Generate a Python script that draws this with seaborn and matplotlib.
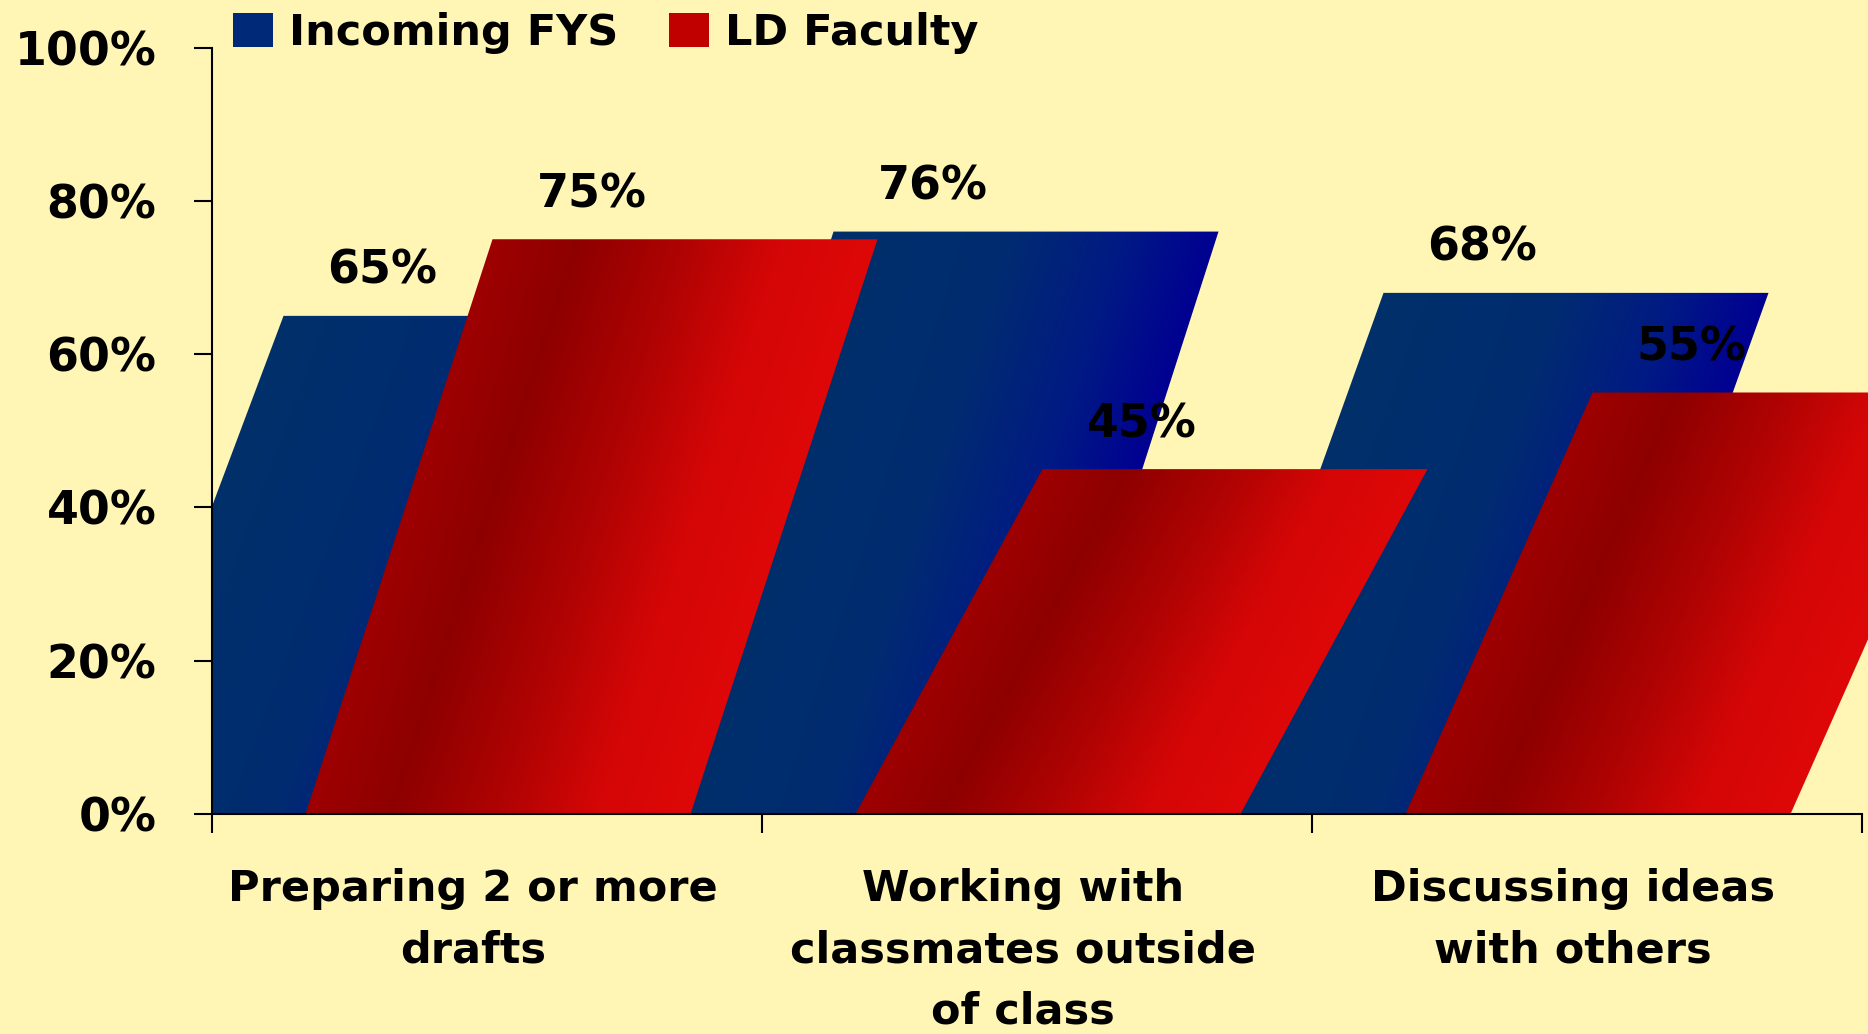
import numpy as np
import pandas as pd
import matplotlib
matplotlib.use("Agg")
import matplotlib.pyplot as plt
import seaborn as sns
from matplotlib.colors import LinearSegmentedColormap
from matplotlib.patches import Polygon, Patch
from matplotlib.transforms import Bbox, TransformedBbox


categories = ["Preparing 2 or more\ndrafts",
              "Working with\nclassmates outside\nof class",
              "Discussing ideas\nwith others"]
groups = ["Incoming FYS", "LD Faculty"]
fys_values = [65, 76, 68]
ld_values = [75, 45, 55]
y_ticks = [0, 20, 40, 60, 80, 100]

df = pd.DataFrame({
    "category": categories * 2,
    "group": [groups[0]] * 3 + [groups[1]] * 3,
    "value": fys_values + ld_values,
})

bg = "#FFF5B4"
blue_cmap = LinearSegmentedColormap.from_list(
    "fys", [(0, "#00306A"), (0.45, "#002C70"), (0.75, "#001A84"), (1, "#000092")])
red_cmap = LinearSegmentedColormap.from_list(
    "ld", [(0, "#9E0000"), (0.22, "#8E0000"), (0.5, "#B00303"), (0.75, "#D50606"), (1, "#DE0808")])

sns.set_style("white")
plt.rcParams["font.family"] = ["DejaVu Sans"]
plt.rcParams["font.weight"] = "bold"
plt.rcParams["text.color"] = "black"
plt.rcParams["xtick.color"] = "black"
plt.rcParams["ytick.color"] = "black"
plt.rcParams["xtick.labelcolor"] = "black"
plt.rcParams["ytick.labelcolor"] = "black"

fig = plt.figure(figsize=(18.68, 10.34), dpi=100, facecolor=bg)
ax = fig.add_axes([0.1135, 0.2128, 0.8833, 0.7411])
ax.set_facecolor(bg)

sns.barplot(data=df, x="category", y="value", hue="group",
            palette=["#002A78", "#C00000"], width=0.76,
            errorbar=None, legend=False, ax=ax)

# turn the flat bars into slanted gradient slabs
half_w = 0.35
skew = 0.17
cmaps = [blue_cmap, red_cmap]
clip = TransformedBbox(Bbox.from_extents(-0.5, -1, 3.0, 101), ax.transData)
for hi, cont in enumerate(ax.containers):
    for bar in cont:
        xc = bar.get_x() + bar.get_width() / 2
        h = bar.get_height()
        bar.set_visible(False)
        verts = [(xc - half_w - skew, 0), (xc + half_w - skew, 0),
                 (xc + half_w + skew, h), (xc - half_w + skew, h)]
        x0, x1 = xc - half_w - skew, xc + half_w + skew
        xs = np.linspace(x0, x1, 700)
        ys = np.linspace(0, h, 300)
        X, Y = np.meshgrid(xs, ys)
        left = x0 + 2 * skew * Y / h
        U = np.clip((X - left) / (2 * half_w), 0, 1)
        poly = Polygon(verts, closed=True, transform=ax.transData)
        im = ax.imshow(U, cmap=cmaps[hi], vmin=0, vmax=1, extent=(x0, x1, 0, h),
                       origin="lower", aspect="auto", interpolation="bilinear", zorder=3 + hi)
        im.set_clip_path(poly)
        im.set_clip_box(clip)
        ax.annotate(f"{h:.0f}%", (xc, h), xytext=(0, 32), textcoords="offset points",
                    ha="center", va="center", fontsize=33, fontweight="bold", zorder=30)

ax.set_xlim(-0.5, 2.5)
ax.set_ylim(0, 100)
ax.set_xlabel("")
ax.set_ylabel("")

ax.set_xticks([-0.5, 0.5, 1.5, 2.5])
ax.set_xticklabels([])
ax.set_xticks(np.arange(len(categories)) - 0.025, minor=True)
ax.set_xticklabels(categories, minor=True, fontsize=31, fontweight="bold", linespacing=1.58)
ax.tick_params(axis="x", which="major", bottom=True, length=14, width=1.5,
               direction="out", color="black")
ax.tick_params(axis="x", which="minor", bottom=True, length=0, pad=39)
ax.set_yticks(y_ticks)
ax.set_yticklabels([f"{v}%" for v in y_ticks], fontsize=33, fontweight="bold")
ax.tick_params(axis="y", left=True, length=13, width=1.5, direction="out",
               color="black", pad=27)

for s in ["top", "right"]:
    ax.spines[s].set_visible(False)
for s in ["left", "bottom"]:
    ax.spines[s].set_color("black")
    ax.spines[s].set_linewidth(1.5)
    ax.spines[s].set_zorder(20)

handles = [Patch(facecolor="#002A78", edgecolor="none", label=groups[0]),
           Patch(facecolor="#C00000", edgecolor="none", label=groups[1])]
fig.legend(handles=handles, loc="center left", bbox_to_anchor=(0.1245, 0.968), ncol=2,
           frameon=False, fontsize=31, handlelength=0.93, handleheight=0.84,
           handletextpad=0.37, columnspacing=1.2, borderpad=0, borderaxespad=0)

fig.savefig("out.png", dpi=100, facecolor=bg)
